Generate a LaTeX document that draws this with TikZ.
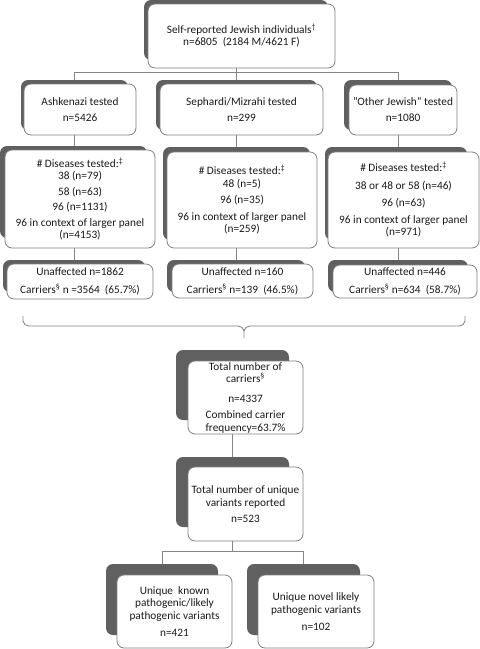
\documentclass[tikz,border=0pt]{standalone}
\usepackage{fontspec}
\setmainfont{Carlito}
\definecolor{shadowgray}{HTML}{606060}
\definecolor{bordergray}{HTML}{808080}
\definecolor{linegray}{HTML}{858585}
\definecolor{textgray}{HTML}{1A1A1A}
\pgfdeclarelayer{background}
\pgfsetlayers{background,main}
\tikzset{
  wbox/.style={draw=bordergray, fill=white, rounded corners=7pt, line width=0.8pt,
    inner sep=1pt, align=center, text=textgray,
    font=\fontsize{11.3}{12.5}\selectfont},
  sbox/.style={fill=shadowgray, rounded corners=7pt},
  conn/.style={draw=linegray, line width=0.9pt},
}
\newcommand{\sups}{\textsuperscript{\S}}
\begin{document}
\begin{tikzpicture}[x=1pt,y=-1pt]
\useasboundingbox (0,0) rectangle (480,649);
% junction coordinates
\coordinate (j1) at (74,72);
\coordinate (j2) at (236,72);
\coordinate (j3) at (398,72);
\coordinate (bl) at (23,316);
\coordinate (br) at (465,316);
\coordinate (bc) at (244,338);
\coordinate (k1) at (232,551);
\coordinate (kl) at (162,551);
\coordinate (kr) at (303,551);

% shadows
\fill[sbox] (144,0) rectangle (328,60);
\fill[sbox] (21,80) rectangle (128,130);
\fill[sbox] (156,80) rectangle (317,130);
\fill[sbox] (344,80) rectangle (452,130);
\fill[sbox] (0,146) rectangle (147,238);
\fill[sbox] (163,147) rectangle (310,240);
\fill[sbox] (325,147) rectangle (467,240);
\fill[sbox] (3,260) rectangle (145,292);
\fill[sbox] (167,260) rectangle (305,292);
\fill[sbox] (328,260) rectangle (468,292);
\fill[sbox] (176,350) rectangle (289,420);
\fill[sbox] (176,457) rectangle (289,527);
\fill[sbox] (106,564) rectangle (218,635);
\fill[sbox] (247,564) rectangle (360,635);

% boxes
\node[wbox, minimum width=187pt, minimum height=64pt] (top) at (241.5,36)
  {Self-reported Jewish individuals\textsuperscript{\textdagger}\\[-0.5pt] n=6805\ \ (2184 M/4621 F)};
\node[wbox, minimum width=112pt, minimum height=51pt] (ash) at (80,109.5)
  {Ashkenazi tested\\[3.5pt] n=5426};
\node[wbox, minimum width=163pt, minimum height=51pt] (seph) at (241.5,109.5)
  {Sephardi/Mizrahi tested\\[3.5pt] n=299};
\node[wbox, minimum width=108pt, minimum height=50pt] (oth) at (403,110)
  {"Other Jewish" tested\\[3.5pt] n=1080};

\node[wbox, minimum width=150pt, minimum height=98pt] (ashd) at (80,199)
  {\# Diseases tested:\textsuperscript{\textdaggerdbl}\\ 38 (n=79)\\[3pt] 58 (n=63)\\[3pt] 96 (n=1131)\\[3pt] 96 in context of larger panel\\ (n=4153)};
\node[wbox, minimum width=150pt, minimum height=96pt] (sephd) at (242,200)
  {\# Diseases tested:\textsuperscript{\textdaggerdbl}\\ 48 (n=5)\\[4pt] 96 (n=35)\\[4pt] 96 in context of larger panel\\ (n=259)};
\node[wbox, minimum width=151pt, minimum height=96pt] (othd) at (403.5,200)
  {\# Diseases tested:\textsuperscript{\textdaggerdbl}\\[5pt] 38 or 48 or 58 (n=46)\\[4.5pt] 96 (n=63)\\[4.5pt] 96 in context of larger panel\\ (n=971)};

\node[wbox, minimum width=146pt, minimum height=35pt] (ashc) at (80,281.5)
  {Unaffected n=1862\\[5.5pt] Carriers\sups{} n =3564\ \ (65.7\%)};
\node[wbox, minimum width=141pt, minimum height=34pt] (sephc) at (242.5,281)
  {Unaffected n=160\\[5.5pt] Carriers\sups{} n=139\ \ (46.5\%)};
\node[wbox, minimum width=144pt, minimum height=33pt] (othc) at (405,281.5)
  {Unaffected n=446\\[5.5pt] Carriers\sups{} n=634\ \ (58.7\%)};

\node[wbox, minimum width=115pt, minimum height=73pt] (carr) at (245.5,397.5)
  {Total number of\\ carriers\sups\\[7.5pt] n=4337\\[3.5pt] Combined carrier\\ frequency=63.7\%};
\node[wbox, minimum width=115pt, minimum height=74pt] (var) at (245.5,504)
  {Total number of unique\\ variants reported\\[3.5pt] n=523};
\node[wbox, minimum width=115pt, minimum height=73pt] (kn) at (174.5,611.5)
  {Unique\ \ known\\ pathogenic/likely\\ pathogenic variants\\[4.5pt] n=421};
\node[wbox, minimum width=116pt, minimum height=73pt] (nov) at (316,611.5)
  {Unique novel likely\\ pathogenic variants\\[4.5pt] n=102};

% connectors (drawn behind shadows)
\begin{pgfonlayer}{background}
  \draw[conn] (j2 |- top.south) -- (j2);
  \draw[conn] (j1) -- (j3);
  \draw[conn] (j1) -- (j1 |- ash.north);
  \draw[conn] (j2) -- (j2 |- seph.north);
  \draw[conn] (j3) -- (j3 |- oth.north);
  \draw[conn] (j1 |- ash.south) -- (j1 |- ashd.north);
  \draw[conn] (j2 |- seph.south) -- (j2 |- sephd.north);
  \draw[conn] (j3 |- oth.south) -- (j3 |- othd.north);
  \draw[conn] (j1 |- ashd.south) -- (j1 |- ashc.north);
  \draw[conn] (j2 |- sephd.south) -- (j2 |- sephc.north);
  \draw[conn] (j3 |- othd.south) -- (j3 |- othc.north);
  % brace
  \draw[conn] (bl) -- (23,321) to[out=-90,in=180] (29,326)
     -- (238,326) to[out=0,in=90] (bc |- 0,331) -- (bc);
  \draw[conn] (bc |- 0,331) to[out=90,in=180] (250,326) -- (459,326) to[out=0,in=-90] (465,321) -- (br);
  \draw[conn] (k1 |- carr.south) -- (k1 |- var.north);
  \draw[conn] (k1 |- var.south) -- (k1);
  \draw[conn] (kl) -- (kr);
  \draw[conn] (kl) -- (kl |- kn.north);
  \draw[conn] (kr) -- (kr |- nov.north);
\end{pgfonlayer}
\end{tikzpicture}
\end{document}
